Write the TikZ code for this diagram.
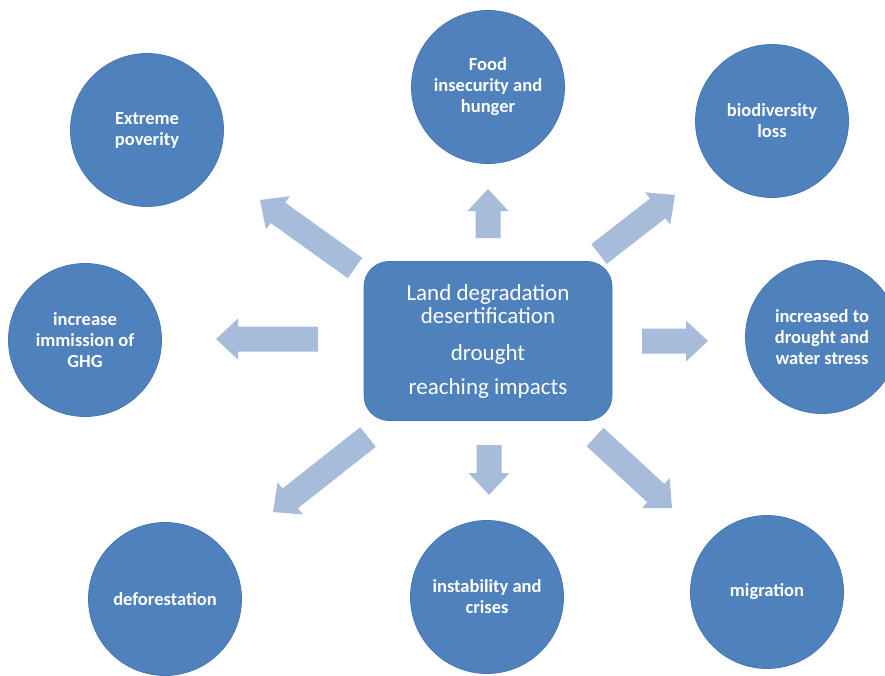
\documentclass[tikz,border=0pt]{standalone}
\usepackage{fontspec}
\setmainfont{Carlito}
\usetikzlibrary{calc}
\definecolor{cblue}{HTML}{4F81BD}
\definecolor{cedge}{HTML}{4777B2}
\definecolor{afill}{HTML}{A7BBDA}
\newcommand{\fatarrow}[2]{%
  \coordinate (hb) at ($(#2)!22pt!(#1)$);
  \fill[arrowfill] ($(#1)!12.5pt!90:(#2)$) -- ($(hb)!12.5pt!-90:(#1)$)
    -- ($(hb)!20.5pt!-90:(#1)$) -- (#2) -- ($(hb)!20.5pt!90:(#1)$)
    -- ($(hb)!12.5pt!90:(#1)$) -- ($(#1)!12.5pt!-90:(#2)$) -- cycle;}
\begin{document}
\begin{tikzpicture}[x=1pt,y=-1pt,
  circ/.style={circle, fill=cblue, draw=cedge, line width=0.8pt,
    minimum size=153pt, inner sep=0pt, text=white, align=center,
    font=\bfseries\fontsize{18.5}{21}\selectfont},
  centerbox/.style={rectangle, rounded corners=25pt, fill=cblue, draw=cedge,
    line width=0.8pt, minimum width=248pt, minimum height=159pt,
    text=white, align=center, font=\fontsize{23}{23}\selectfont},
  arrowfill/.style={fill=afill}]
\useasboundingbox (0,0) rectangle (885,675);
% centre
\node[centerbox] (c) at (488,341) {Land degradation\\desertification\\[14pt]drought\\[11pt]reaching impacts};
% circles
\node[circ] (food) at (488,87) {Food\\insecurity and\\hunger};
\node[circ] (pov) at (147,130) {Extreme\\poverity};
\node[circ] (bio) at (772,121) {biodiversity\\loss};
\node[circ] (ghg) at (85,340) {increase\\immission of\\GHG};
\node[circ] (dro) at (822,337) {increased to\\drought and\\water stress};
\node[circ] (def) at (165,599) {deforestation};
\node[circ] (ins) at (487,597) {instability and\\crises};
\node[circ] (mig) at (767,592) {migration};
% arrow ends
\coordinate (upT) at (488,238);  \coordinate (upH) at (488,189);
\coordinate (dnT) at (489,445);  \coordinate (dnH) at (489,495);
\coordinate (lfT) at (318,339);  \coordinate (lfH) at (216,339);
\coordinate (rtT) at (642,341);  \coordinate (rtH) at (708,341);
\coordinate (ulT) at (355,268);  \coordinate (ulH) at (260,200);
\coordinate (urT) at (599,254);  \coordinate (urH) at (675,195);
\coordinate (llT) at (368,437);  \coordinate (llH) at (273,512);
\coordinate (lrT) at (595,437);  \coordinate (lrH) at (672,508);
\fatarrow{upT}{upH}
\fatarrow{dnT}{dnH}
\fatarrow{lfT}{lfH}
\fatarrow{rtT}{rtH}
\fatarrow{ulT}{ulH}
\fatarrow{urT}{urH}
\fatarrow{llT}{llH}
\fatarrow{lrT}{lrH}
\end{tikzpicture}
\end{document}
